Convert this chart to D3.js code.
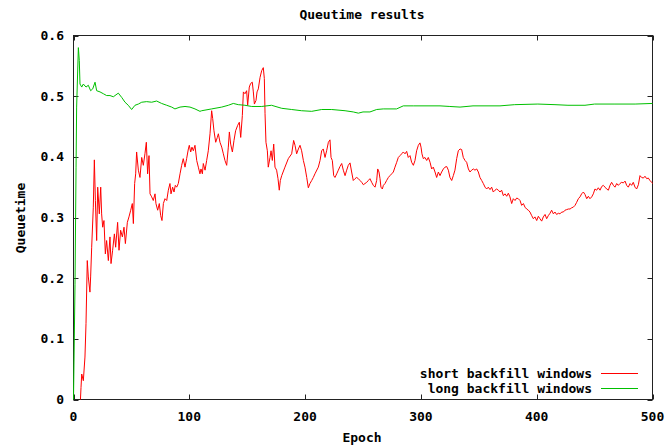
<!DOCTYPE html>
<html>
<head>
<meta charset="utf-8">
<script src="https://cdn.jsdelivr.net/npm/d3@7"></script>
<style>
  body { margin: 0; background: #fff; }
  svg text { font-family: "DejaVu Sans Mono", "Liberation Mono", monospace; font-weight: bold; font-size: 13px; fill: #000; }
</style>
</head>
<body>
<svg id="chart" width="667" height="447"></svg>
<script>
// epoch ticks and queuetime ticks
const xTicks = [0, 100, 200, 300, 400, 500];
const yTicks = [0, 0.1, 0.2, 0.3, 0.4, 0.5, 0.6];
const seriesNames = ['short backfill windows', 'long backfill windows'];

// [epoch, queuetime]
const shortWindows = [
  [6, 0], [6.5, 0.02], [7.1, 0.042], [8.5, 0.031], [9.9, 0.07], [10.8, 0.125], [11.9, 0.229], [12.8, 0.202],
  [14.2, 0.177], [14.8, 0.202], [15.7, 0.251], [17.1, 0.317], [18.0, 0.395], [18.9, 0.328], [20.0, 0.262],
  [20.9, 0.35], [22.3, 0.306], [23.5, 0.35], [24.3, 0.306], [25.2, 0.284], [26.3, 0.295], [27.5, 0.24],
  [28.6, 0.262], [30.1, 0.229], [31.5, 0.268], [32.4, 0.224], [33.8, 0.246], [35.3, 0.273], [36.4, 0.251],
  [38.1, 0.292], [39.3, 0.246], [40.7, 0.279], [42.2, 0.268], [43.6, 0.284], [44.8, 0.257], [46.5, 0.292],
  [47.9, 0.301], [49.4, 0.312], [50.8, 0.323], [51.7, 0.29], [52.8, 0.356], [53.7, 0.372], [54.5, 0.408],
  [56.0, 0.378], [57.4, 0.366], [58.9, 0.399], [60.3, 0.386], [61.7, 0.405], [62.9, 0.424], [64.0, 0.372],
  [65.2, 0.402], [66.1, 0.339], [67.5, 0.334], [68.9, 0.328], [70.4, 0.339], [71.2, 0.323], [72.7, 0.312],
  [74.1, 0.323], [75.3, 0.303], [76.4, 0.295], [77.6, 0.323], [79.0, 0.331], [80.5, 0.328], [81.9, 0.345],
  [83.3, 0.356], [84.2, 0.339], [85.6, 0.35], [86.8, 0.342], [87.9, 0.353], [89.1, 0.35], [90.5, 0.356],
  [92.0, 0.372], [93.4, 0.386], [94.8, 0.397], [96.3, 0.383], [97.7, 0.397], [99.2, 0.413], [100.0, 0.419],
  [101.2, 0.408], [102.3, 0.416], [103.5, 0.41], [104.9, 0.419], [106.4, 0.394], [107.8, 0.383], [109.2, 0.372],
  [110.1, 0.38], [111.3, 0.372], [112.1, 0.389], [113.6, 0.378], [115.0, 0.394], [116.4, 0.41], [117.9, 0.438],
  [119.3, 0.476], [120.2, 0.463], [121.3, 0.443], [122.8, 0.424], [124.2, 0.432], [125.1, 0.438], [126.5, 0.424],
  [128.0, 0.416], [129.4, 0.405], [130.8, 0.394], [132.3, 0.386], [133.7, 0.416], [134.6, 0.441], [135.7, 0.421],
  [137.2, 0.408], [138.6, 0.427], [140.0, 0.443], [141.8, 0.452], [143.2, 0.457], [144.4, 0.432], [145.8, 0.468],
  [146.7, 0.507], [148.1, 0.504], [149.5, 0.509], [150.4, 0.485], [151.8, 0.515], [153.0, 0.521], [154.4, 0.523],
  [155.3, 0.507], [156.2, 0.487], [157.6, 0.493], [158.5, 0.507], [159.6, 0.512], [161.1, 0.531], [162.5, 0.542],
  [163.9, 0.547], [164.8, 0.529], [165.4, 0.471], [166.2, 0.424], [167.4, 0.41], [168.2, 0.383], [169.7, 0.399],
  [170.6, 0.41], [171.7, 0.394], [172.9, 0.421], [174.0, 0.383], [175.4, 0.378], [176.6, 0.364], [177.7, 0.345],
  [178.6, 0.361], [179.8, 0.369], [182.6, 0.383], [185.5, 0.397], [188.4, 0.405], [190.1, 0.427], [191.3, 0.419],
  [192.7, 0.405], [194.2, 0.413], [195.6, 0.419], [197.0, 0.41], [198.5, 0.394], [199.9, 0.383], [201.4, 0.366],
  [202.8, 0.349], [204.2, 0.356], [205.7, 0.361], [207.1, 0.366], [208.5, 0.372], [211.4, 0.383], [212.9, 0.394],
  [214.3, 0.41], [215.7, 0.413], [217.2, 0.399], [218.6, 0.41], [220.1, 0.424], [221.5, 0.428], [222.4, 0.399],
  [223.5, 0.394], [224.7, 0.369], [225.8, 0.366], [227.3, 0.372], [228.7, 0.378], [230.1, 0.384], [231.6, 0.389],
  [233.0, 0.378], [234.5, 0.369], [235.9, 0.378], [237.3, 0.386], [238.8, 0.39], [240.2, 0.375], [241.6, 0.361],
  [243.1, 0.364], [244.5, 0.366], [246.0, 0.364], [247.4, 0.361], [248.9, 0.358], [250.3, 0.354], [251.7, 0.356],
  [253.2, 0.358], [254.6, 0.361], [256.0, 0.364], [257.5, 0.358], [258.9, 0.353], [260.4, 0.35], [261.8, 0.361],
  [262.7, 0.38], [263.8, 0.375], [264.7, 0.364], [265.5, 0.35], [266.7, 0.347], [267.6, 0.353], [269.0, 0.356],
  [270.4, 0.361], [271.9, 0.366], [273.3, 0.369], [274.8, 0.372], [276.2, 0.375], [277.6, 0.383], [279.1, 0.391],
  [280.5, 0.399], [282.0, 0.402], [283.4, 0.405], [284.8, 0.408], [286.3, 0.405], [287.7, 0.409], [289.1, 0.399],
  [290.6, 0.402], [292.0, 0.391], [293.5, 0.386], [294.9, 0.394], [296.3, 0.41], [297.8, 0.419], [299.2, 0.423],
  [300.1, 0.416], [300.9, 0.405], [302.1, 0.397], [303.5, 0.399], [305.0, 0.394], [306.4, 0.399], [307.9, 0.391],
  [309.3, 0.38], [310.7, 0.383], [312.2, 0.375], [313.6, 0.366], [315.1, 0.375], [316.5, 0.369], [317.9, 0.375],
  [319.4, 0.38], [320.8, 0.383], [322.3, 0.384], [323.7, 0.378], [325.1, 0.366], [326.6, 0.361], [328.0, 0.369],
  [329.4, 0.378], [330.9, 0.397], [332.3, 0.41], [333.8, 0.413], [335.2, 0.412], [336.6, 0.399], [338.1, 0.394],
  [339.5, 0.391], [341.0, 0.38], [342.4, 0.375], [343.8, 0.378], [345.3, 0.38], [346.7, 0.378], [348.2, 0.38],
  [349.6, 0.375], [351.0, 0.366], [352.5, 0.361], [353.9, 0.356], [355.4, 0.35], [356.8, 0.347], [358.2, 0.35],
  [359.7, 0.346], [361.1, 0.35], [362.5, 0.342], [364.0, 0.345], [365.4, 0.347], [366.9, 0.345], [368.3, 0.342],
  [369.7, 0.345], [371.2, 0.336], [372.6, 0.339], [374.1, 0.335], [375.5, 0.34], [376.9, 0.334], [378.4, 0.323],
  [379.8, 0.331], [381.3, 0.328], [382.7, 0.332], [384.1, 0.331], [385.6, 0.328], [387.0, 0.32], [388.5, 0.323],
  [389.9, 0.317], [391.3, 0.314], [392.8, 0.312], [394.2, 0.309], [395.7, 0.303], [397.1, 0.298], [398.5, 0.301],
  [400.0, 0.295], [401.4, 0.302], [402.8, 0.298], [404.3, 0.294], [405.7, 0.301], [407.2, 0.305], [408.6, 0.298],
  [410.0, 0.303], [411.5, 0.307], [412.9, 0.312], [414.4, 0.306], [415.8, 0.309], [417.2, 0.305], [418.7, 0.307],
  [420.1, 0.306], [421.6, 0.309], [423.0, 0.309], [424.4, 0.312], [425.9, 0.313], [427.3, 0.314], [428.8, 0.314],
  [430.2, 0.316], [431.6, 0.317], [433.1, 0.32], [434.5, 0.325], [436.0, 0.331], [437.4, 0.334], [438.8, 0.339],
  [440.3, 0.342], [441.7, 0.338], [443.2, 0.331], [444.6, 0.335], [446.0, 0.331], [447.5, 0.334], [448.9, 0.339],
  [450.3, 0.347], [451.8, 0.345], [453.2, 0.349], [454.7, 0.345], [456.1, 0.351], [457.5, 0.353], [459.0, 0.35],
  [460.4, 0.347], [461.9, 0.345], [463.3, 0.353], [464.7, 0.358], [466.2, 0.353], [467.6, 0.35], [469.1, 0.356],
  [470.5, 0.353], [471.9, 0.356], [473.4, 0.358], [474.8, 0.357], [476.3, 0.36], [477.7, 0.353], [479.1, 0.35],
  [480.6, 0.356], [482.0, 0.353], [483.4, 0.358], [484.9, 0.35], [486.3, 0.347], [487.8, 0.354], [489.2, 0.369],
  [490.6, 0.366], [492.1, 0.365], [493.5, 0.368], [495.0, 0.364], [496.4, 0.365], [497.8, 0.361], [499.3, 0.358],
  [500, 0.356]
];

const longWindows = [
  [0, 0], [1.3, 0.19], [2.2, 0.383], [2.7, 0.482], [4.2, 0.58], [5.0, 0.559], [5.6, 0.52], [7.1, 0.515],
  [8.5, 0.52], [10.8, 0.515], [12.8, 0.518], [14.8, 0.509], [16.6, 0.512], [18.6, 0.523], [20, 0.509],
  [22.9, 0.507], [25.8, 0.504], [28.6, 0.501], [31.5, 0.501], [34.4, 0.499], [38.7, 0.505], [41.6, 0.498],
  [44.5, 0.49], [47.3, 0.485], [50.2, 0.478], [53.1, 0.485], [56, 0.487], [58.9, 0.49], [63.2, 0.491],
  [67.5, 0.49], [71.8, 0.492], [76.1, 0.488], [80.5, 0.485], [84.8, 0.482], [87.6, 0.479], [92, 0.482],
  [96.3, 0.483], [100.6, 0.482], [104.9, 0.479], [109.2, 0.475], [110.7, 0.476], [119.3, 0.479], [128, 0.482],
  [133.7, 0.485], [138, 0.488], [142.3, 0.486], [148, 0.485], [153.9, 0.483], [162.5, 0.483], [171, 0.485],
  [179.8, 0.48], [188.4, 0.478], [197, 0.476], [205.7, 0.475], [214.3, 0.478], [223, 0.478], [234.5, 0.476],
  [241.6, 0.474], [246, 0.472], [250, 0.474], [256, 0.474], [261.8, 0.478], [267.5, 0.479], [279, 0.479],
  [284.8, 0.484], [293.4, 0.484], [316.5, 0.484], [325, 0.483], [333.8, 0.482], [345, 0.484], [368.3, 0.484],
  [381, 0.486], [401, 0.487], [415.8, 0.486], [427, 0.485], [441.7, 0.485], [450, 0.487], [467.6, 0.487],
  [485, 0.487], [500, 0.488]
];

const colors = ['#ff0000', '#00c000'];

const svg = d3.select('#chart');
const x = d3.scaleLinear().domain([0, 500]).range([73.5, 652.5]);
const y = d3.scaleLinear().domain([0, 0.6]).range([399.5, 35.5]);
const tickLen = 5;

const frame = svg.append('g');
frame.append('rect')
  .attr('x', x(0)).attr('y', y(0.6))
  .attr('width', x(500) - x(0)).attr('height', y(0) - y(0.6))
  .attr('fill', 'none').attr('stroke', '#222').attr('stroke-width', 1);

// inward ticks on all four sides, like gnuplot's mirrored tics
xTicks.forEach(t => {
  frame.append('line').attr('x1', Math.round(x(t)) + 0.5).attr('x2', Math.round(x(t)) + 0.5)
    .attr('y1', y(0)).attr('y2', y(0) - tickLen).attr('stroke', '#222');
  frame.append('line').attr('x1', Math.round(x(t)) + 0.5).attr('x2', Math.round(x(t)) + 0.5)
    .attr('y1', y(0.6)).attr('y2', y(0.6) + tickLen).attr('stroke', '#222');
});
yTicks.forEach(t => {
  frame.append('line').attr('x1', x(0)).attr('x2', x(0) + tickLen)
    .attr('y1', Math.round(y(t)) + 0.5).attr('y2', Math.round(y(t)) + 0.5).attr('stroke', '#222');
  frame.append('line').attr('x1', x(500)).attr('x2', x(500) - tickLen)
    .attr('y1', Math.round(y(t)) + 0.5).attr('y2', Math.round(y(t)) + 0.5).attr('stroke', '#222');
});

svg.append('g').selectAll('text')
  .data(yTicks)
  .enter()
  .append('text')
  .attr('x', 64)
  .attr('y', d => y(d))
  .attr('dy', '0.35em')
  .attr('text-anchor', 'end')
  .text(d => d3.format('~g')(d));

svg.append('g').selectAll('text')
  .data(xTicks)
  .enter()
  .append('text')
  .attr('x', d => x(d))
  .attr('y', 416)
  .attr('dy', '0.35em')
  .attr('text-anchor', 'middle')
  .text(d => d);

svg.append('text').attr('x', 362).attr('y', 14).attr('dy', '0.35em')
  .attr('text-anchor', 'middle').text('Queutime results');
svg.append('text').attr('x', 362).attr('y', 437).attr('dy', '0.35em')
  .attr('text-anchor', 'middle').text('Epoch');
svg.append('text')
  .attr('transform', 'translate(20,218) rotate(-90)')
  .attr('dy', '0.35em')
  .attr('text-anchor', 'middle')
  .text('Queuetime');

const line = d3.line().x(d => x(d[0])).y(d => y(d[1]));
const plot = svg.append('g');
[shortWindows, longWindows].forEach((s, i) => {
  plot.append('path')
    .datum(s)
    .attr('d', line)
    .attr('fill', 'none')
    .attr('stroke', colors[i])
    .attr('stroke-width', 1);
});

// legend, bottom right inside the frame
const legend = svg.append('g');
seriesNames.forEach((name, i) => {
  const ly = 373 + i * 15;
  legend.append('text').attr('x', 592).attr('y', ly).attr('dy', '0.35em')
    .attr('text-anchor', 'end').text(name);
  legend.append('line').attr('x1', 601).attr('x2', 638)
    .attr('y1', ly + 0.5).attr('y2', ly + 0.5)
    .attr('stroke', colors[i]).attr('stroke-width', 1);
});
</script>
</body>
</html>
